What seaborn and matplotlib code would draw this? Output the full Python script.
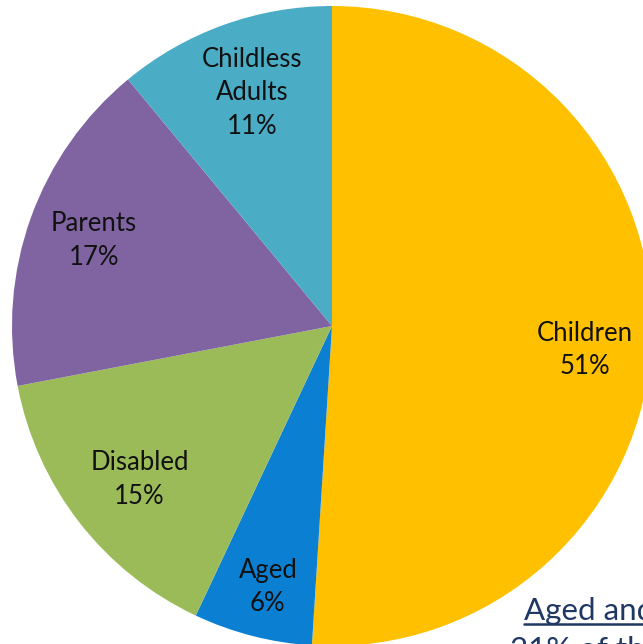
import matplotlib
matplotlib.use("Agg")
import numpy as np
import matplotlib.pyplot as plt
import seaborn as sns

# Enrollment groups, clockwise from twelve o'clock
groups = ["Children", "Aged", "Disabled", "Parents", "Childless\nAdults"]
shares = [51, 6, 15, 17, 11]
colors = ["#FFC000", "#0B80D2", "#9BBB59", "#8064A2", "#4BACC6"]

# Label placement inside each wedge: radius (fraction of R) and angular nudge
label_radius = [0.795, 0.84, 0.77, 0.79, 0.77]
label_nudge = [-3.6, 0.6, 0.8, 0.0, -0.9]

sns.set_theme(style="white")
plt.rcParams["font.family"] = ["Lato", "DejaVu Sans"]

fig = plt.figure(figsize=(6.43, 6.44), dpi=100)
W, H = 643, 644
cx, cy, r = 332, 326, 320
ax = fig.add_axes([(cx - r) / W, (H - cy - r) / H, 2 * r / W, 2 * r / H])

wedges, texts = ax.pie(
    shares,
    colors=colors,
    startangle=90,
    counterclock=False,
    labels=[f"{g}\n{v}%" for g, v in zip(groups, shares)],
    labeldistance=0.78,
    textprops=dict(fontsize=18.5, color="#111111", ha="center", va="center",
                   linespacing=1.43),
    wedgeprops=dict(linewidth=0),
)
for w, t, rad, nudge in zip(wedges, texts, label_radius, label_nudge):
    ang = np.deg2rad((w.theta1 + w.theta2) / 2 + nudge)
    t.set_position((rad * np.cos(ang), rad * np.sin(ang)))
    t.set_horizontalalignment("center")

ax.set_xlim(-1, 1)
ax.set_ylim(-1, 1)
ax.set_aspect("equal")
ax.axis("off")

# Side note, partly running off the page
title = fig.text(524 / W, 1 - 611 / H, "Aged and Disabled", fontsize=22.5,
                 color="#1F3864", ha="left", va="center")
fig.text(510 / W, 1 - 650 / H, "21% of the enrollees", fontsize=22.5,
         color="#1F3864", ha="left", va="center")
fig.canvas.draw()
bb = title.get_window_extent().transformed(fig.transFigure.inverted())
fig.add_artist(plt.Line2D([bb.x0, bb.x1], [bb.y0 + 0.001, bb.y0 + 0.001],
                          transform=fig.transFigure, color="#1F3864", lw=1.8))

fig.savefig("out.png", dpi=100)
